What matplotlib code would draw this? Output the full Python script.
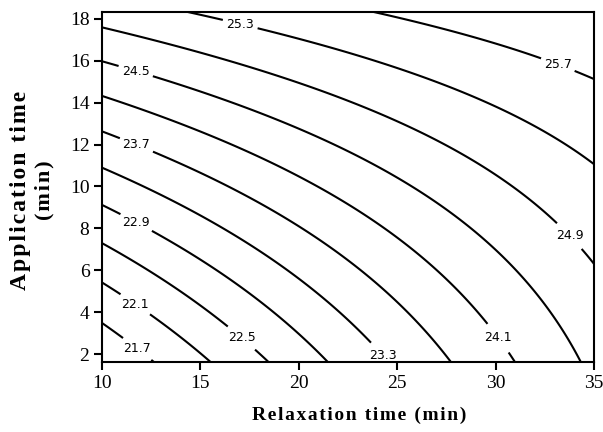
import numpy as np
import matplotlib
matplotlib.use("Agg")
import matplotlib.pyplot as plt

# Response-surface model (quadratic)
# z = b0 + b1*x + b2*y + b11*x^2 + b22*y^2 + b12*x*y
b0, b1, b2 = 19.438563, 0.162399, 0.246948
b11, b22, b12 = -0.000521, 0.001634, -0.005466

x_range = [10, 35]
y_range = [1.62, 18.33]
levels = [21.7, 22.1, 22.5, 22.9, 23.3, 23.7, 24.1, 24.5, 24.9, 25.3, 25.7]
x_ticks = [10, 15, 20, 25, 30, 35]
y_ticks = [2, 4, 6, 8, 10, 12, 14, 16, 18]
label_pos = [(11.67, 2.1), (11.6, 4.25), (17.0, 2.67), (11.67, 8.16), (24.2, 1.85),
             (11.67, 11.8), (30.0, 2.67), (11.67, 15.37), (33.6, 7.5), (17.0, 17.66), (33.1, 15.66)]

def spaced(s):
    return "\u200a".join(s)

fig = plt.figure(figsize=(6.03, 4.32), dpi=100)
ax = fig.add_axes([102/603, 1-362/432, (594-102)/603, 350/432])

x = np.linspace(x_range[0], x_range[1], 300)
y = np.linspace(y_range[0], y_range[1], 300)
X, Y = np.meshgrid(x, y)
Z = b0 + b1*X + b2*Y + b11*X**2 + b22*Y**2 + b12*X*Y
cs = ax.contour(X, Y, Z, levels=levels, colors='k', linewidths=1.5)
texts = ax.clabel(cs, levels, inline=True, fmt='%.1f', fontsize=9, manual=label_pos, inline_spacing=4)
for t in texts:
    t.set_rotation(0)
    t.set_fontfamily('DejaVu Sans')

ax.set_xlim(x_range)
ax.set_ylim(y_range)
ax.set_xticks(x_ticks)
ax.set_yticks(y_ticks)
ax.tick_params(direction='out', length=6, width=1.5, labelsize=14, pad=3)
for lab in ax.get_xticklabels() + ax.get_yticklabels():
    lab.set_fontfamily('Liberation Serif')
for s in ax.spines.values():
    s.set_linewidth(1.5)

serif = ['Liberation Serif', 'DejaVu Serif']
fig.text(359/603, 1-415/432, spaced("Relaxation time (min)"), ha='center', va='center',
         fontsize=14, fontweight='bold', family=serif)
fig.text(21/603, 1-190/432, spaced("Application time"), ha='center', va='center', rotation=90,
         fontsize=17, fontweight='bold', family=serif)
fig.text(44/603, 1-190/432, spaced("(min)"), ha='center', va='center', rotation=90,
         fontsize=16, fontweight='bold', family=serif)

fig.savefig("out.png", dpi=100)
